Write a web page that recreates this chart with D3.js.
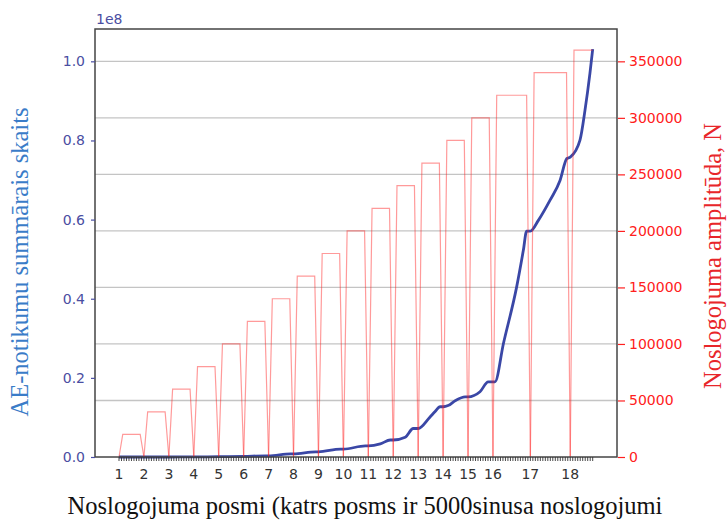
<!DOCTYPE html>
<html>
<head>
<meta charset="utf-8">
<title>AE notikumi un noslogojuma posmi</title>
<script src="https://d3js.org/d3.v7.min.js"></script>
<style>
  body { margin: 0; background: #fff; }
</style>
</head>
<body>
<div id="chart"></div>
<script>
// stages (posmi) - x axis is point index, labels sit on stage starts
const stageLabels = ["1","2","3","4","5","6","7","8","9","10","11","12","13","14","15","16","17","18"];
const stageStart = [0,10,20,30,40,50,60,70,80,90,100,110,120,130,140,150,165,181];
const lastIndex = 190;
// load amplitude per stage, N
const amplitude = [20000,40000,60000,80000,100000,120000,140000,160000,180000,200000,
                   220000,240000,260000,280000,300000,320000,340000,360000];
// cumulative AE count
const aeIndex = [0,10,20,30,40,50,58.8,60,68.8,70,78.8,80,88.8,90,98.8,100,104.8,108.8,110,
                 114.8,118,120,124.6,126.8,128.8,130,132,135,138.8,140,144.8,148.1,150.8,
                 154.2,159.5,162.2,163.5,165,168.2,172.9,176.9,179.6,181,184.9,186.9,188.9,190];
const aeCount = [0,0,0,0.03e6,0.08e6,0.15e6,0.3e6,0.3e6,0.8e6,0.8e6,1.3e6,1.3e6,2.0e6,2.0e6,
                 2.8e6,2.8e6,3.3e6,4.3e6,4.3e6,5.0e6,7.2e6,7.2e6,10.0e6,11.5e6,12.7e6,12.7e6,
                 13.0e6,14.3e6,15.2e6,15.2e6,16.5e6,19.0e6,19.0e6,28.7e6,43.0e6,52.3e6,57.1e6,
                 57.1e6,59.8e6,64.9e6,69.9e6,75.4e6,75.8e6,80.1e6,87.6e6,97.0e6,103.1e6];
const leftTicks = [0, 0.2e8, 0.4e8, 0.6e8, 0.8e8, 1.0e8];
const rightTicks = [0,50000,100000,150000,200000,250000,300000,350000];

const width = 727, height = 522;
const plot = {left: 95, right: 617, top: 29, bottom: 457};

const svg = d3.select("#chart")
  .append("svg")
    .attr("width", width)
    .attr("height", height)
    .style("font-family", "'DejaVu Sans', sans-serif");

const x = d3.scaleLinear().domain([0, lastIndex]).range([119, 592.7]);
const yLeft = d3.scaleLinear().domain([0, 1.0817e8]).range([plot.bottom, plot.top]);
const yRight = d3.scaleLinear().domain([0, 378600]).range([plot.bottom, plot.top]);

const blue = "#3a47a6", tickBlue = "#4a4ea2", red = "#ff2020";
const serif = "'Liberation Serif', 'Times New Roman', serif";

// grid from the right axis
svg.append("g")
  .selectAll("line")
  .data(rightTicks.slice(1))
  .join("line")
    .attr("x1", plot.left).attr("x2", plot.right)
    .attr("y1", d => yRight(d)).attr("y2", d => yRight(d))
    .attr("stroke", "#c4c4c4")
    .attr("stroke-width", 1.3);

// blue cumulative line
const aeData = aeIndex.map((d, i) => ({i: d, v: aeCount[i]}));
svg.append("path")
  .datum(aeData)
  .attr("fill", "none")
  .attr("stroke", blue)
  .attr("stroke-width", 2.8)
  .attr("stroke-linejoin", "round")
  .attr("d", d3.line()
    .curve(d3.curveMonotoneX)
    .x(d => x(d.i))
    .y(d => yLeft(d.v)));

// red load amplitude, one trapezoid per stage
const stages = amplitude.map((a, k) => {
  const s = stageStart[k];
  const e = k < stageStart.length - 1 ? stageStart[k + 1] : lastIndex;
  const pts = [[s, 0], [s + 1.5, a]];
  if (k < stageStart.length - 1) pts.push([e - 1.5, a], [e, 0]);
  else pts.push([e, a]);
  return pts;
});
svg.append("g")
  .selectAll("path")
  .data(stages)
  .join("path")
    .attr("fill", "none")
    .attr("stroke", red)
    .attr("stroke-opacity", 0.45)
    .attr("stroke-width", 1.2)
    .attr("d", d3.line()
      .x(d => x(d[0]))
      .y(d => yRight(d[1])));

// frame
svg.append("rect")
  .attr("x", plot.left).attr("y", plot.top)
  .attr("width", plot.right - plot.left)
  .attr("height", plot.bottom - plot.top)
  .attr("fill", "none")
  .attr("stroke", "#444")
  .attr("stroke-width", 1.5);

// left axis
const leftAxis = svg.append("g")
  .attr("transform", `translate(${plot.left},0)`)
  .call(d3.axisLeft(yLeft).tickValues(leftTicks)
    .tickFormat(d => (d / 1e8).toFixed(1)).tickSize(4).tickPadding(6));
leftAxis.select(".domain").remove();
leftAxis.selectAll("line").attr("stroke", tickBlue).attr("stroke-width", 1.2);
leftAxis.selectAll("text").attr("fill", tickBlue).style("font-size", "14px")
  .style("font-family", "'DejaVu Sans', sans-serif");
svg.append("text")
  .attr("x", 96).attr("y", 24)
  .attr("fill", tickBlue)
  .style("font-size", "14px")
  .text("1e8");

// right axis
const rightAxis = svg.append("g")
  .attr("transform", `translate(${plot.right + 1},0)`)
  .call(d3.axisRight(yRight).tickValues(rightTicks).tickFormat(d3.format("d"))
    .tickSize(7).tickPadding(4));
rightAxis.select(".domain").remove();
rightAxis.selectAll("line").attr("stroke", red).attr("stroke-width", 1.2);
rightAxis.selectAll("text").attr("fill", red).style("font-size", "14px")
  .style("font-family", "'DejaVu Sans', sans-serif");

// x axis: a small tick on every point, labels on stage starts
svg.append("g")
  .selectAll("line")
  .data(d3.range(0, lastIndex + 1))
  .join("line")
    .attr("x1", d => x(d)).attr("x2", d => x(d))
    .attr("y1", plot.bottom).attr("y2", plot.bottom + 4)
    .attr("stroke", "#333")
    .attr("stroke-width", 0.9);
svg.append("g")
  .selectAll("text")
  .data(stageStart)
  .join("text")
    .attr("x", d => x(d))
    .attr("y", 478.5)
    .attr("text-anchor", "middle")
    .attr("fill", "#333")
    .style("font-size", "14px")
    .text((d, k) => stageLabels[k]);

// axis titles
svg.append("text")
  .attr("x", 365).attr("y", 514)
  .attr("text-anchor", "middle")
  .style("font-family", serif)
  .style("font-size", "24.5px")
  .attr("fill", "#111")
  .text("Noslogojuma posmi (katrs posms ir 5000sinusa noslogojumi");
svg.append("text")
  .attr("transform", "translate(28,262) rotate(-90)")
  .attr("text-anchor", "middle")
  .style("font-family", serif)
  .style("font-size", "24.5px")
  .attr("fill", "#3a7cc8")
  .text("AE-notikumu summārais skaits");
svg.append("text")
  .attr("transform", "translate(721,256) rotate(-90)")
  .attr("text-anchor", "middle")
  .style("font-family", serif)
  .style("font-size", "24.5px")
  .attr("fill", "#e8262a")
  .text("Noslogojuma amplitūda, N");
</script>
</body>
</html>
